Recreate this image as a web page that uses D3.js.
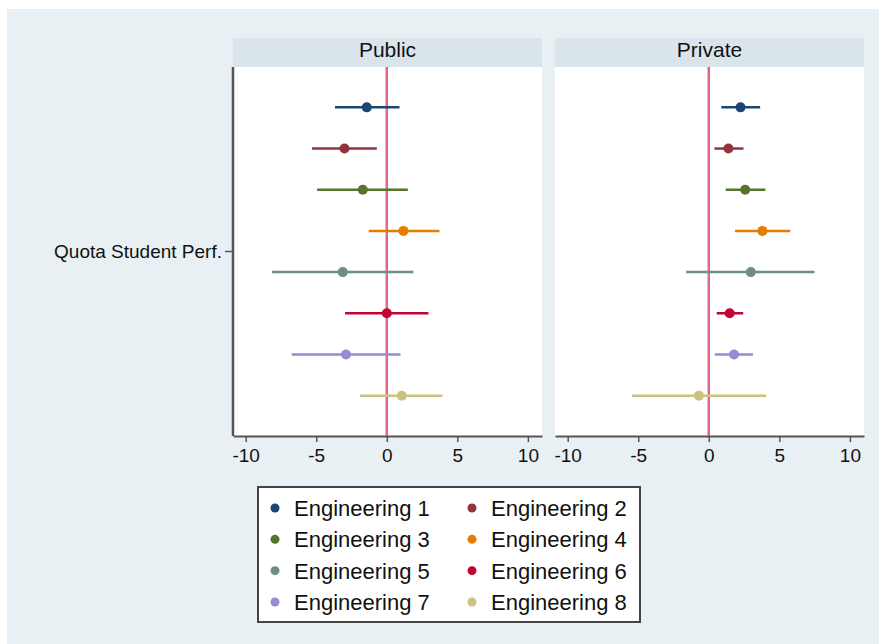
<!DOCTYPE html>
<html>
<head>
<meta charset="utf-8">
<script src="https://cdn.jsdelivr.net/npm/d3@7"></script>
<style>
  body { margin: 0; background: #ffffff; }
  text { font-family: "Liberation Sans", Arial, sans-serif; fill: #111; }
</style>
</head>
<body>
<svg id="chart" width="879" height="644"></svg>
<script>
// categories and estimates
var groups = ["Engineering 1", "Engineering 2", "Engineering 3", "Engineering 4",
              "Engineering 5", "Engineering 6", "Engineering 7", "Engineering 8"];
var panels = ["Public", "Private"];
var colorArray = ["#1a476f", "#90353b", "#55752f", "#e37e00", "#6e8e84", "#c10534", "#938dd2", "#cac27e"];

var publicEst = [-1.42, -3.0, -1.7, 1.18, -3.12, 0.0, -2.89, 1.06];
var publicLo  = [-3.67, -5.3, -4.94, -1.28, -8.13, -2.96, -6.74, -1.89];
var publicHi  = [0.9, -0.71, 1.49, 3.73, 1.89, 2.95, 0.97, 3.94];

var privateEst = [2.25, 1.39, 2.58, 3.8, 2.98, 1.48, 1.79, -0.7];
var privateLo  = [0.89, 0.40, 1.2, 1.86, -1.6, 0.56, 0.42, -5.44];
var privateHi  = [3.64, 2.46, 4.01, 5.77, 7.49, 2.44, 3.13, 4.06];

var xTicks = [-10, -5, 0, 5, 10];
var yLabel = "Quota Student Perf.";

var svg = d3.select("#chart");

// outer graph region
svg.append("rect")
    .attr("x", 7).attr("y", 9)
    .attr("width", 872).attr("height", 635)
    .attr("fill", "#e8f0f3");

var plotTop = 67, plotBottom = 436;
var panelLeft = [233, 555];
var panelWidth = 309;

var y = d3.scalePoint()
    .domain(groups)
    .range([plotTop, plotBottom])
    .padding(0.98);

var color = d3.scaleOrdinal().domain(groups).range(colorArray);

var panelData = [
    { name: panels[0], est: publicEst, lo: publicLo, hi: publicHi },
    { name: panels[1], est: privateEst, lo: privateLo, hi: privateHi }
];

panelData.forEach(function (p, k) {
    var left = panelLeft[k];
    var x = d3.scaleLinear()
        .domain([-10.9, 11.0])
        .range([left, left + panelWidth]);

    var g = svg.append("g");

    // strip with panel title
    g.append("rect")
        .attr("x", left).attr("y", 38)
        .attr("width", panelWidth).attr("height", plotTop - 38)
        .attr("fill", "#d9e5eb");
    g.append("text")
        .attr("x", left + panelWidth / 2).attr("y", 57)
        .attr("text-anchor", "middle")
        .style("font-size", "21px")
        .text(p.name);

    // plot region
    g.append("rect")
        .attr("x", left).attr("y", plotTop)
        .attr("width", panelWidth).attr("height", plotBottom - plotTop)
        .attr("fill", "#ffffff");

    // zero reference line
    g.append("line")
        .attr("x1", x(0)).attr("x2", x(0))
        .attr("y1", plotTop).attr("y2", plotBottom)
        .attr("stroke", "#dc4a72")
        .attr("stroke-opacity", 0.85)
        .attr("stroke-width", 2.5);

    var rows = groups.map(function (d, i) {
        return { group: d, est: p.est[i], lo: p.lo[i], hi: p.hi[i] };
    });

    // confidence intervals
    g.selectAll("line.ci")
        .data(rows)
        .enter()
        .append("line")
        .attr("class", "ci")
        .attr("x1", function (d) { return x(d.lo); })
        .attr("x2", function (d) { return x(d.hi); })
        .attr("y1", function (d) { return y(d.group); })
        .attr("y2", function (d) { return y(d.group); })
        .attr("stroke", function (d) { return color(d.group); })
        .attr("stroke-width", 2.5);

    // point estimates
    g.selectAll("circle.pt")
        .data(rows)
        .enter()
        .append("circle")
        .attr("class", "pt")
        .attr("cx", function (d) { return x(d.est); })
        .attr("cy", function (d) { return y(d.group); })
        .attr("r", 5)
        .attr("fill", function (d) { return color(d.group); });

    // bottom axis
    var axis = g.append("g")
        .attr("transform", "translate(0," + plotBottom + ")")
        .call(d3.axisBottom(x).tickValues(xTicks).tickSizeInner(6).tickSizeOuter(0)
            .tickPadding(7).tickFormat(d3.format("d")));
    axis.select(".domain").attr("stroke", "#555").attr("stroke-width", 2);
    axis.selectAll(".tick line").attr("stroke", "#555").attr("stroke-width", 1.5);
    axis.selectAll(".tick text")
        .style("font-size", "19px")
        .style("font-family", "'Liberation Sans', Arial, sans-serif")
        .attr("fill", "#111")
        .text(function (d) { return d < 0 ? "-" + Math.abs(d) : d; });

    // left axis on first panel only
    if (k === 0) {
        g.append("line")
            .attr("x1", left).attr("x2", left)
            .attr("y1", plotTop).attr("y2", plotBottom)
            .attr("stroke", "#555").attr("stroke-width", 2.5);
        var midY = (y(groups[3]) + y(groups[4])) / 2;
        g.append("line")
            .attr("x1", left - 8).attr("x2", left)
            .attr("y1", midY).attr("y2", midY)
            .attr("stroke", "#555").attr("stroke-width", 1.5);
        g.append("text")
            .attr("x", left - 11).attr("y", midY)
            .attr("dy", "0.35em")
            .attr("text-anchor", "end")
            .style("font-size", "19px")
            .text(yLabel);
    }
});

// legend
var legend = svg.append("g");
legend.append("rect")
    .attr("x", 258).attr("y", 487)
    .attr("width", 382).attr("height", 135)
    .attr("fill", "#ffffff")
    .attr("stroke", "#444")
    .attr("stroke-width", 2);

var legCol = d3.scaleOrdinal().domain([0, 1]).range([275, 472]);
var legRow = d3.scaleLinear().domain([0, 3]).range([508, 602]);

var items = legend.selectAll("g.item")
    .data(groups)
    .enter()
    .append("g")
    .attr("class", "item")
    .attr("transform", function (d, i) {
        return "translate(" + legCol(i % 2) + "," + legRow(Math.floor(i / 2)) + ")";
    });
items.append("circle")
    .attr("r", 4.5)
    .attr("fill", function (d) { return color(d); });
items.append("text")
    .attr("x", 19)
    .attr("dy", "0.36em")
    .style("font-size", "22px")
    .text(function (d) { return d; });
</script>
</body>
</html>
